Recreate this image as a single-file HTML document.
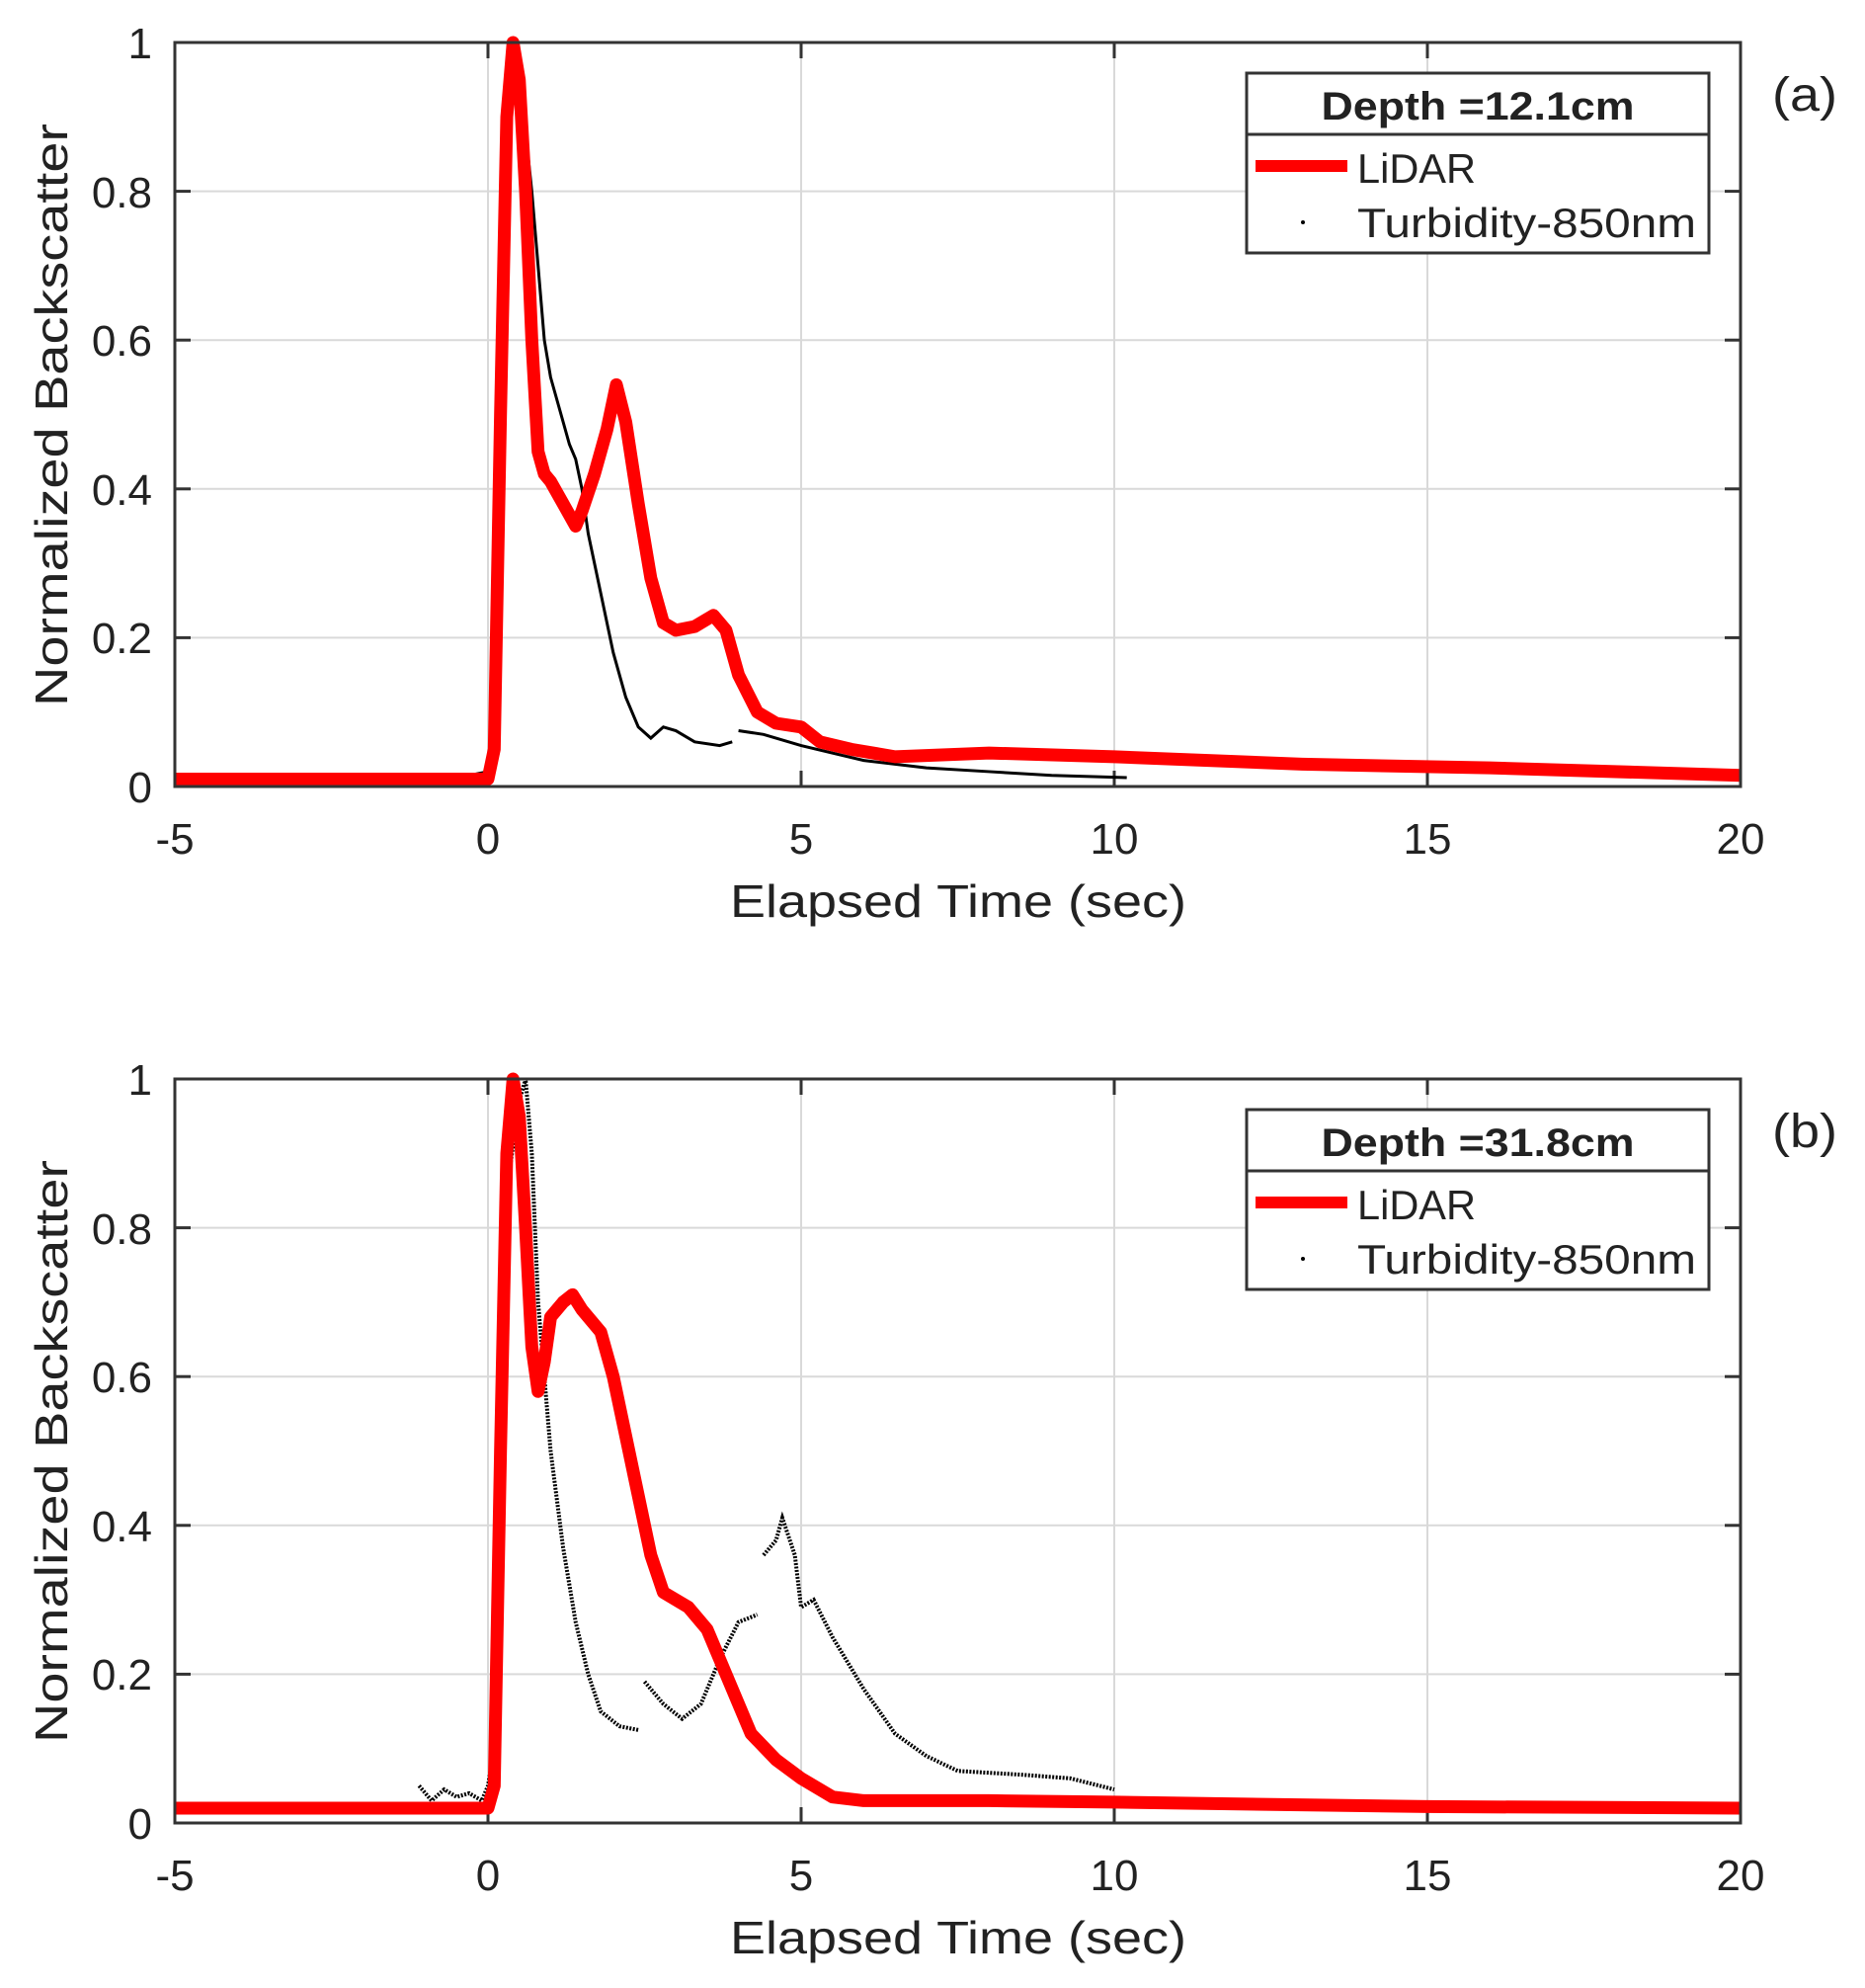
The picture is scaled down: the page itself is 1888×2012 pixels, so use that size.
<!DOCTYPE html>
<html><head><meta charset="utf-8"><style>
html,body{margin:0;padding:0;background:#fff;}
svg{display:block;}
text{font-family:"Liberation Sans",sans-serif;fill:#222;}
</style></head><body>
<svg width="1888" height="2012" viewBox="0 0 1888 2012" xmlns="http://www.w3.org/2000/svg">
<defs>
<g id="frame">
  <g stroke="#d9d9d9" stroke-width="2">
    <line x1="317" y1="0" x2="317" y2="753"/><line x1="634" y1="0" x2="634" y2="753"/>
    <line x1="951" y1="0" x2="951" y2="753"/><line x1="1268" y1="0" x2="1268" y2="753"/>
    <line x1="0" y1="150.6" x2="1585" y2="150.6"/><line x1="0" y1="301.2" x2="1585" y2="301.2"/>
    <line x1="0" y1="451.8" x2="1585" y2="451.8"/><line x1="0" y1="602.4" x2="1585" y2="602.4"/>
  </g>
  <g stroke="#333" stroke-width="3">
    <line x1="317" y1="0" x2="317" y2="16"/><line x1="634" y1="0" x2="634" y2="16"/><line x1="951" y1="0" x2="951" y2="16"/><line x1="1268" y1="0" x2="1268" y2="16"/>
    <line x1="317" y1="753" x2="317" y2="737"/><line x1="634" y1="753" x2="634" y2="737"/><line x1="951" y1="753" x2="951" y2="737"/><line x1="1268" y1="753" x2="1268" y2="737"/>
    <line x1="0" y1="150.6" x2="16" y2="150.6"/><line x1="0" y1="301.2" x2="16" y2="301.2"/><line x1="0" y1="451.8" x2="16" y2="451.8"/><line x1="0" y1="602.4" x2="16" y2="602.4"/>
    <line x1="1585" y1="150.6" x2="1569" y2="150.6"/><line x1="1585" y1="301.2" x2="1569" y2="301.2"/><line x1="1585" y1="451.8" x2="1569" y2="451.8"/><line x1="1585" y1="602.4" x2="1569" y2="602.4"/>
  </g>
</g>
</defs>

<!-- ===== Panel A ===== -->
<g transform="translate(177,43)"><use href="#frame"/></g>
<g transform="translate(177,796) scale(63.4,-753)" fill="none">
  <polyline vector-effect="non-scaling-stroke" stroke="#000" stroke-width="3" points="4.1,0.015 4.7,0.015 5,0.02 5.1,0.05 5.2,0.4 5.3,0.85 5.4,1.0 5.5,0.95 5.6,0.88 5.7,0.8 5.8,0.7 5.9,0.6 6.0,0.55 6.2,0.49 6.3,0.46 6.4,0.44 6.5,0.4 6.6,0.34 6.8,0.26 7.0,0.18 7.2,0.12 7.4,0.08 7.6,0.065 7.8,0.08 8.0,0.075 8.3,0.06 8.7,0.055 8.9,0.06"/>
  <polyline vector-effect="non-scaling-stroke" stroke="#000" stroke-width="3" points="9.0,0.075 9.4,0.07 10,0.055 11,0.035 12,0.025 13,0.02 14,0.015 15.2,0.012"/>
  <polyline vector-effect="non-scaling-stroke" stroke="#f00" stroke-width="13" stroke-linejoin="round" points="0,0.01 5,0.01 5.1,0.05 5.2,0.5 5.3,0.9 5.4,1.0 5.5,0.95 5.6,0.8 5.7,0.6 5.8,0.45 5.9,0.42 6.0,0.41 6.2,0.38 6.4,0.35 6.5,0.37 6.7,0.42 6.9,0.48 7.05,0.54 7.2,0.49 7.4,0.38 7.6,0.28 7.8,0.22 8.0,0.21 8.3,0.215 8.6,0.23 8.8,0.21 9.0,0.15 9.3,0.1 9.6,0.085 10,0.08 10.3,0.06 10.8,0.05 11.5,0.04 13,0.045 15,0.04 18,0.03 21,0.025 25,0.015"/>
</g>
<rect x="177" y="43" width="1585" height="753" fill="none" stroke="#333" stroke-width="3"/>
<g font-size="44" text-anchor="end">
  <text x="154" y="812">0</text><text x="154" y="661">0.2</text><text x="154" y="511">0.4</text>
  <text x="154" y="360">0.6</text><text x="154" y="210">0.8</text><text x="154" y="59">1</text>
</g>
<g font-size="44" text-anchor="middle">
  <text x="177" y="864">-5</text><text x="494" y="864">0</text><text x="811" y="864">5</text>
  <text x="1128" y="864">10</text><text x="1445" y="864">15</text><text x="1762" y="864">20</text>
</g>
<text x="970" y="928" font-size="46" text-anchor="middle" textLength="462" lengthAdjust="spacingAndGlyphs">Elapsed Time (sec)</text>
<text transform="translate(68,420) rotate(-90)" font-size="46" text-anchor="middle" textLength="590" lengthAdjust="spacingAndGlyphs">Normalized Backscatter</text>
<g>
  <rect x="1262" y="74" width="468" height="182" fill="#fff" stroke="#333" stroke-width="3"/>
  <line x1="1262" y1="136" x2="1730" y2="136" stroke="#333" stroke-width="3"/>
  <text x="1496" y="121" font-size="40" font-weight="bold" text-anchor="middle" textLength="317" lengthAdjust="spacingAndGlyphs">Depth =12.1cm</text>
  <line x1="1271" y1="168" x2="1364" y2="168" stroke="#f00" stroke-width="12"/>
  <text x="1374" y="185" font-size="42" textLength="120" lengthAdjust="spacingAndGlyphs">LiDAR</text>
  <circle cx="1319" cy="225" r="2" fill="#000"/>
  <text x="1374" y="240" font-size="42" textLength="343" lengthAdjust="spacingAndGlyphs">Turbidity-850nm</text>
</g>
<text x="1794" y="112" font-size="48" textLength="66" lengthAdjust="spacingAndGlyphs">(a)</text>

<!-- ===== Panel B ===== -->
<g transform="translate(177,1092)"><use href="#frame"/></g>
<g transform="translate(177,1845) scale(63.4,-753)" fill="none">
  <polyline vector-effect="non-scaling-stroke" stroke="#000" stroke-width="4" stroke-dasharray="2 1.5" points="3.9,0.05 4.1,0.03 4.3,0.045 4.5,0.035 4.7,0.04 4.9,0.03 5,0.05 5.1,0.1 5.2,0.5 5.3,0.85 5.5,0.97 5.6,1.0 5.7,0.9 5.8,0.7 5.9,0.6 6.0,0.5 6.2,0.37 6.4,0.27 6.6,0.2 6.8,0.15 7.1,0.13 7.4,0.125"/>
  <polyline vector-effect="non-scaling-stroke" stroke="#000" stroke-width="4" stroke-dasharray="2 1.5" points="7.5,0.19 7.8,0.16 8.1,0.14 8.4,0.16 8.7,0.22 9.0,0.27 9.3,0.28"/>
  <polyline vector-effect="non-scaling-stroke" stroke="#000" stroke-width="4" stroke-dasharray="2 1.5" points="9.4,0.36 9.6,0.38 9.7,0.41 9.9,0.36 10.0,0.29 10.2,0.3 10.5,0.25 11.0,0.18 11.5,0.12 12.0,0.09 12.5,0.07 13.5,0.065 14.3,0.06 15,0.045"/>
  <polyline vector-effect="non-scaling-stroke" stroke="#f00" stroke-width="13" stroke-linejoin="round" points="0,0.02 5,0.02 5.1,0.05 5.2,0.5 5.3,0.9 5.4,1.0 5.5,0.95 5.6,0.8 5.7,0.64 5.8,0.58 5.9,0.62 6.0,0.68 6.2,0.7 6.35,0.71 6.5,0.69 6.8,0.66 7.0,0.6 7.3,0.48 7.6,0.36 7.8,0.31 8.2,0.29 8.5,0.26 8.8,0.2 9.2,0.12 9.6,0.085 10.0,0.06 10.5,0.035 11,0.03 13,0.03 15,0.028 20,0.022 25,0.02"/>
</g>
<rect x="177" y="1092" width="1585" height="753" fill="none" stroke="#333" stroke-width="3"/>
<g font-size="44" text-anchor="end">
  <text x="154" y="1861">0</text><text x="154" y="1710">0.2</text><text x="154" y="1560">0.4</text>
  <text x="154" y="1409">0.6</text><text x="154" y="1259">0.8</text><text x="154" y="1108">1</text>
</g>
<g font-size="44" text-anchor="middle">
  <text x="177" y="1913">-5</text><text x="494" y="1913">0</text><text x="811" y="1913">5</text>
  <text x="1128" y="1913">10</text><text x="1445" y="1913">15</text><text x="1762" y="1913">20</text>
</g>
<text x="970" y="1977" font-size="46" text-anchor="middle" textLength="462" lengthAdjust="spacingAndGlyphs">Elapsed Time (sec)</text>
<text transform="translate(68,1469) rotate(-90)" font-size="46" text-anchor="middle" textLength="590" lengthAdjust="spacingAndGlyphs">Normalized Backscatter</text>
<g>
  <rect x="1262" y="1123" width="468" height="182" fill="#fff" stroke="#333" stroke-width="3"/>
  <line x1="1262" y1="1185" x2="1730" y2="1185" stroke="#333" stroke-width="3"/>
  <text x="1496" y="1170" font-size="40" font-weight="bold" text-anchor="middle" textLength="317" lengthAdjust="spacingAndGlyphs">Depth =31.8cm</text>
  <line x1="1271" y1="1217" x2="1364" y2="1217" stroke="#f00" stroke-width="12"/>
  <text x="1374" y="1234" font-size="42" textLength="120" lengthAdjust="spacingAndGlyphs">LiDAR</text>
  <circle cx="1319" cy="1274" r="2" fill="#000"/>
  <text x="1374" y="1289" font-size="42" textLength="343" lengthAdjust="spacingAndGlyphs">Turbidity-850nm</text>
</g>
<text x="1794" y="1161" font-size="48" textLength="66" lengthAdjust="spacingAndGlyphs">(b)</text>
</svg>
</body></html>
